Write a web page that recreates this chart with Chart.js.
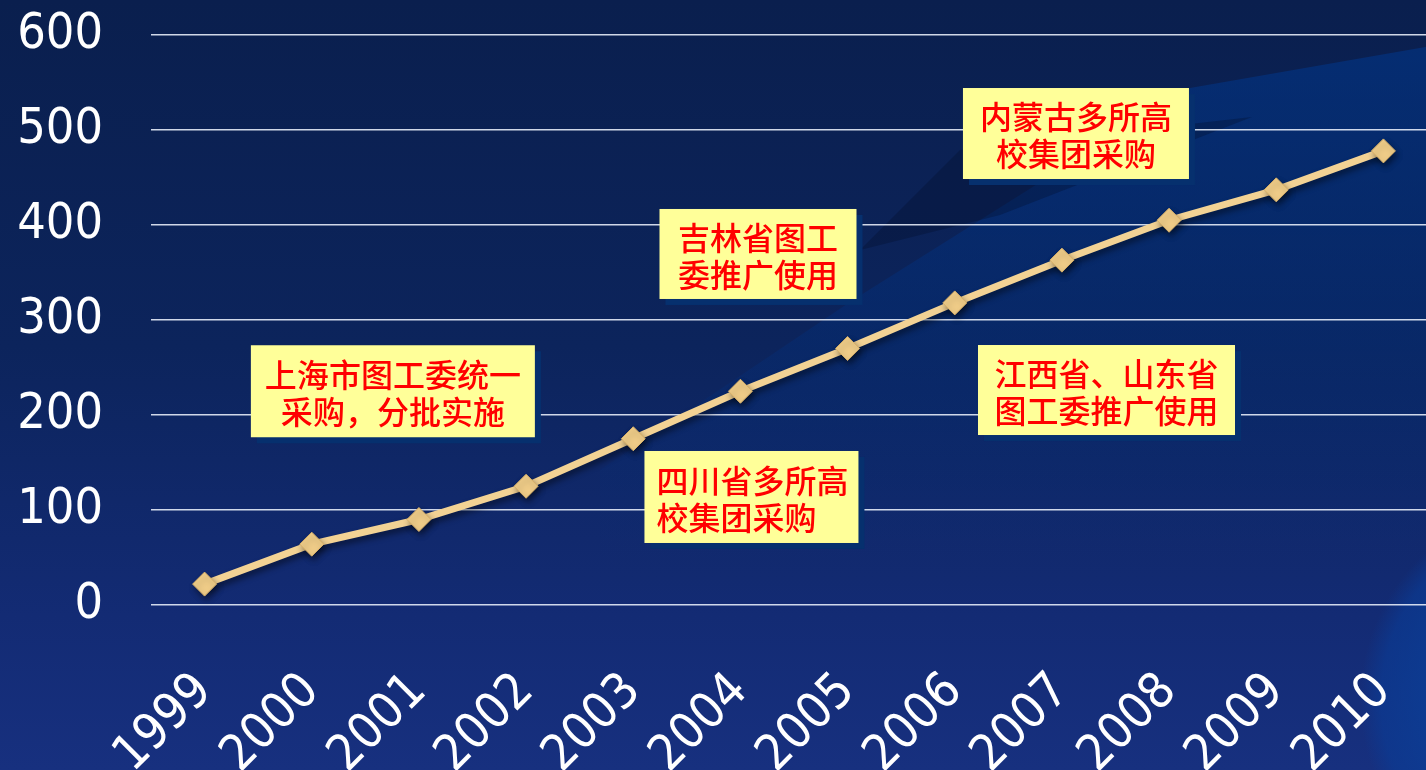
<!DOCTYPE html>
<html><head><meta charset="utf-8">
<script src="https://cdn.jsdelivr.net/npm/chart.js@4/dist/chart.umd.min.js"></script>
<style>
html,body{margin:0;padding:0;overflow:hidden;width:1426px;height:770px;background:#10286a}
#wrap{position:relative;width:1426px;height:770px;overflow:hidden}
canvas{display:block;position:absolute;left:0;top:0}
</style></head>
<body>
<div id="wrap"><canvas id="c" width="1437" height="770"></canvas></div>
<script>
// ---- data ----
const years = ['1999','2000','2001','2002','2003','2004','2005','2006','2007','2008','2009','2010'];
const values = [22, 64, 90, 125, 175, 225, 270, 318, 363, 405, 437, 478];
const yTicks = [0, 100, 200, 300, 400, 500, 600];
const noteTexts = [
  ['上海市图工委统一', '采购，分批实施'],
  ['吉林省图工', '委推广使用'],
  ['四川省多所高', '校集团采购'],
  ['江西省、山东省', '图工委推广使用'],
  ['内蒙古多所高', '校集团采购']
];
// annotation placement (data units: category index, value) and box styling
const notePlacement = [
  {x: 1.757, y: 225, w: 284, h: 92, align: 'center'},
  {x: 5.164, y: 369.5, w: 197, h: 90, align: 'center'},
  {x: 5.103, y: 113.7, w: 214, h: 92, align: 'left'},
  {x: 8.416, y: 226.3, w: 257, h: 90, align: 'center'},
  {x: 8.131, y: 496.3, w: 226, h: 91, align: 'center'}
];

const NUM_FONT = "'DejaVu Sans Condensed', 'DejaVu Sans', sans-serif";
const CJK_FONT = "'Noto Sans CJK SC', sans-serif";

const bgPlugin = {
  id: 'bg',
  beforeDraw(chart) {
    const ctx = chart.ctx, W = chart.width, H = chart.height;
    ctx.save();
    const g = ctx.createLinearGradient(0, 0, 0, H);
    g.addColorStop(0, '#0a1f4e');
    g.addColorStop(0.45, '#0c245c');
    g.addColorStop(0.8, '#132b74');
    g.addColorStop(1, '#17307f');
    ctx.fillStyle = g;
    ctx.fillRect(0, 0, W, H);
    // lighter diagonal band upper right
    const g2 = ctx.createLinearGradient(0, 60, 0, 560);
    g2.addColorStop(0, 'rgba(0,55,140,0.55)');
    g2.addColorStop(0.5, 'rgba(0,50,130,0.35)');
    g2.addColorStop(1, 'rgba(0,50,130,0)');
    ctx.fillStyle = g2;
    ctx.beginPath();
    ctx.moveTo(600, 470);
    ctx.lineTo(853, 300);
    ctx.lineTo(1190, 88);
    ctx.lineTo(W, 45);
    ctx.lineTo(W, 560);
    ctx.lineTo(600, 560);
    ctx.closePath();
    ctx.fill();
    // dark wedge
    ctx.fillStyle = 'rgba(2,14,40,0.3)';
    ctx.beginPath();
    ctx.moveTo(860, 250);
    ctx.lineTo(960, 150);
    ctx.lineTo(1252, 117);
    ctx.lineTo(1000, 215);
    ctx.closePath();
    ctx.fill();
    // lighter bottom-right edge
    const g3 = ctx.createRadialGradient(1560, 700, 60, 1560, 700, 200);
    g3.addColorStop(0, 'rgba(10,70,160,0.9)');
    g3.addColorStop(0.85, 'rgba(10,60,150,0.6)');
    g3.addColorStop(1, 'rgba(10,60,150,0)');
    ctx.fillStyle = g3;
    ctx.fillRect(1300, 450, W - 1300, H - 450);
    ctx.restore();
  }
};

const shadowPlugin = {
  id: 'lineShadow',
  beforeDatasetsDraw(chart) {
    const ctx = chart.ctx;
    ctx.save();
    ctx.shadowColor = 'rgba(0,0,0,0.45)';
    ctx.shadowOffsetX = 2;
    ctx.shadowOffsetY = 4;
    ctx.shadowBlur = 6;
  },
  afterDatasetsDraw(chart) {
    chart.ctx.restore();
  }
};

const notesPlugin = {
  id: 'notes',
  afterDraw(chart) {
    const ctx = chart.ctx;
    const xs = chart.scales.x, ys = chart.scales.y;
    const step = xs.getPixelForValue(1) - xs.getPixelForValue(0);
    ctx.save();
    noteTexts.forEach((lines, i) => {
      const p = notePlacement[i];
      const cx = xs.getPixelForValue(0) + p.x * step;
      const cy = ys.getPixelForValue(p.y);
      const x0 = cx - p.w / 2, y0 = cy - p.h / 2;
      ctx.fillStyle = '#06306e';
      ctx.fillRect(x0 + 6, y0 + 6, p.w, p.h);
      ctx.fillStyle = '#ffff99';
      ctx.fillRect(x0, y0, p.w, p.h);
      ctx.fillStyle = '#ff0000';
      ctx.font = '500 32px ' + CJK_FONT;
      ctx.textBaseline = 'middle';
      const lh = 37;
      lines.forEach((t, j) => {
        const ty = cy + 2 + (j - (lines.length - 1) / 2) * lh;
        if (p.align === 'left') {
          ctx.textAlign = 'left';
          ctx.fillText(t, x0 + 12, ty);
        } else {
          ctx.textAlign = 'center';
          ctx.fillText(t, cx, ty);
        }
      });
    });
    ctx.restore();
  }
};

new Chart(document.getElementById('c'), {
  type: 'line',
  data: {
    labels: years,
    datasets: [{
      data: values,
      borderColor: '#f2d294',
      borderWidth: 7,
      pointStyle: 'rectRot',
      pointRadius: 12,
      pointBackgroundColor: '#efcc88',
      pointBorderColor: '#d8b068',
      pointBorderWidth: 1,
      tension: 0,
      fill: false
    }]
  },
  options: {
    responsive: false,
    animation: false,
    devicePixelRatio: 1,
    layout: { autoPadding: false, padding: { top: 35, left: 0, right: 0, bottom: 0 } },
    plugins: { legend: { display: false }, tooltip: { enabled: false }, title: { display: false } },
    scales: {
      x: {
        type: 'category',
        offset: true,
        grid: { display: false, drawTicks: false },
        border: { display: false },
        ticks: {
          color: '#ffffff',
          font: { family: NUM_FONT, size: 50 },
          minRotation: 45, maxRotation: 45,
          autoSkip: false,
          padding: 57
        },
        afterFit(s) { s.height = 165; s.paddingLeft = 0; s.paddingRight = 0; }
      },
      y: {
        min: 0, max: 600,
        afterBuildTicks(s) { s.ticks = yTicks.map(v => ({ value: v })); },
        ticks: {
          color: '#ffffff',
          font: { family: NUM_FONT, size: 50 },
          padding: 48
        },
        grid: { color: 'rgba(230,236,248,0.9)', lineWidth: 1.6, drawTicks: false },
        border: { display: false },
        afterFit(s) { s.width = 151; s.paddingTop = 0; s.paddingBottom = 0; }
      }
    }
  },
  plugins: [bgPlugin, shadowPlugin, notesPlugin]
});
</script>
</body></html>
